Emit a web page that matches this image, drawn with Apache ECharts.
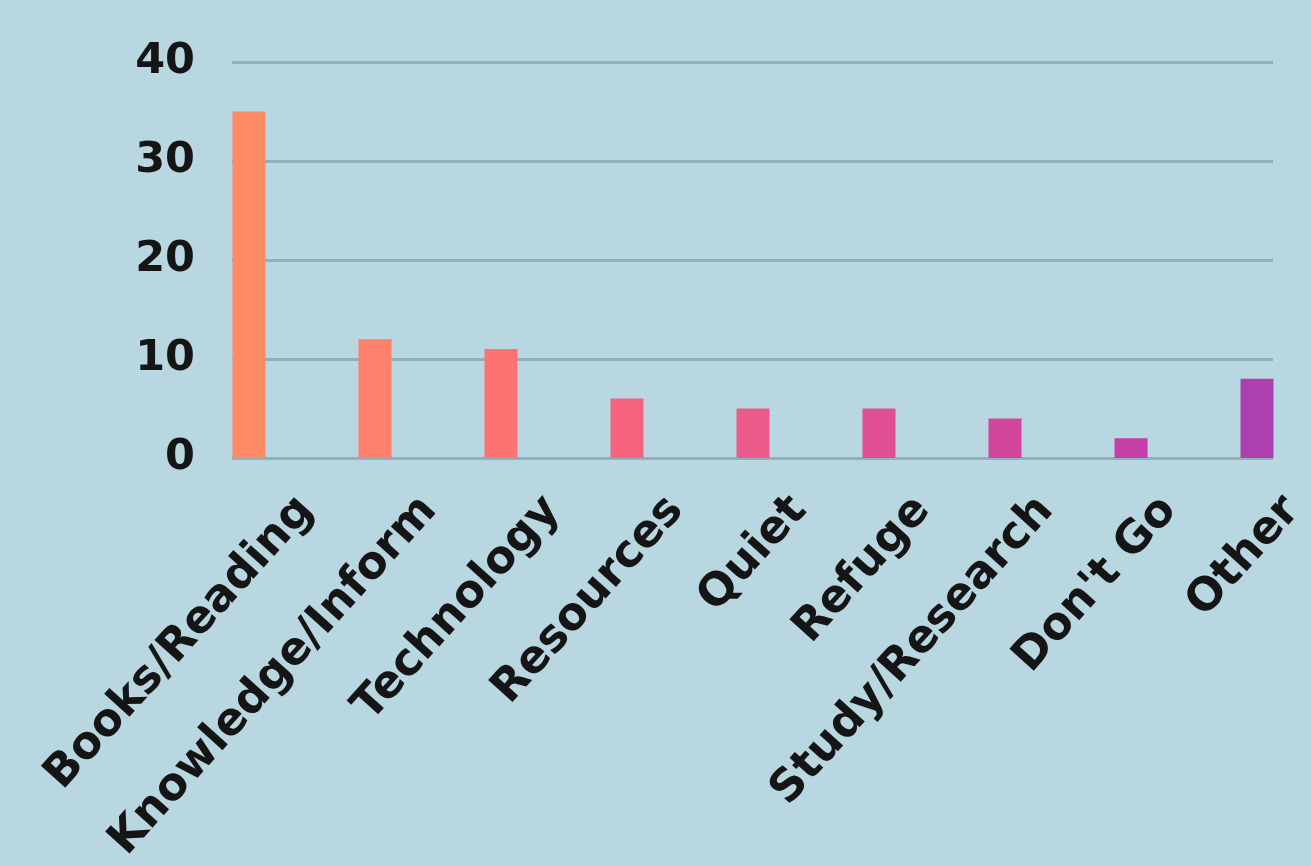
<!DOCTYPE html>
<html>
<head>
<meta charset="utf-8">
<script src="https://cdn.jsdelivr.net/npm/echarts@6/dist/echarts.min.js"></script>
<style>
html,body{margin:0;padding:0;background:#b9d7e1;}
#chart{width:1311px;height:866px;}
</style>
</head>
<body>
<div id="chart"></div>
<script>
const categories = ["Books/Reading","Knowledge/Inform","Technology","Resources","Quiet","Refuge","Study/Research","Don't Go","Other"];
const values = [35, 12, 11, 6, 5, 5, 4, 2, 8];
const barColors = ["#fe8a66","#fd7f6c","#fc7372","#f4647f","#ec5a8a","#e04f94","#d2479c","#c43fa6","#ad40ae"];
const yTicks = [0, 10, 20, 30, 40];

const chart = echarts.init(document.getElementById('chart'), null, {renderer:'canvas'});
const font = '"DejaVu Sans", sans-serif';
const gridTop = 62, gridBottom = 866 - 458;
const option = {
  backgroundColor: '#b9d7e1',
  animation: false,
  grid: [
    {left: 232, right: 38, top: gridTop, bottom: gridBottom},
    {left: 249, right: 54, top: gridTop, bottom: gridBottom},
    {left: 306, width: 1032, top: gridTop, bottom: gridBottom}
  ],
  xAxis: [
    {gridIndex: 0, type: 'category', data: categories, show: false},
    {gridIndex: 1, type: 'category', data: categories, boundaryGap: false, show: false},
    {gridIndex: 2, type: 'category', data: categories, boundaryGap: false,
     axisLine: {show: false}, axisTick: {show: false},
     axisLabel: {rotate: 48, interval: 0, margin: 47, color: '#151515', fontSize: 45, fontWeight: 'bold', fontFamily: font}}
  ],
  yAxis: [
    {gridIndex: 0, type: 'value', min: yTicks[0], max: yTicks[yTicks.length-1], interval: 10,
     axisLine: {show: false}, axisTick: {show: false},
     splitLine: {show: true, lineStyle: {color: '#90b1bb', width: 3}},
     axisLabel: {margin: 37, color: '#151515', fontSize: 43, fontWeight: 'bold', fontFamily: font}},
    {gridIndex: 1, type: 'value', min: 0, max: 40, interval: 10, show: false, splitLine: {show: false}},
    {gridIndex: 2, type: 'value', min: 0, max: 40, interval: 10, show: false, splitLine: {show: false}}
  ],
  series: [{
    type: 'bar', xAxisIndex: 1, yAxisIndex: 1, barWidth: 33,
    data: values.map((v, i) => ({value: v, itemStyle: {color: barColors[i]}}))
  }]
};
chart.setOption(option);
</script>
</body>
</html>
